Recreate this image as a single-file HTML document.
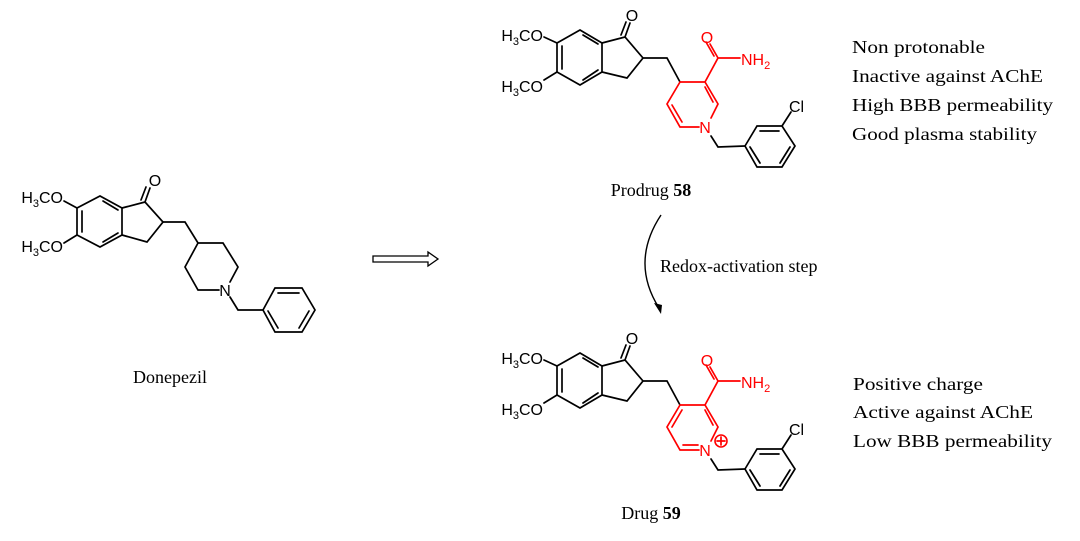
<!DOCTYPE html>
<html><head><meta charset="utf-8"><style>
html,body{margin:0;padding:0;background:#fff;}
svg{display:block;}
.b{stroke:#000;stroke-width:1.7;fill:none;stroke-linecap:round}
.r{stroke:#f00;stroke-width:1.7;fill:none;stroke-linecap:round}
.lab{font-family:"Liberation Sans",sans-serif;font-size:16px;}
.t{font-family:"Liberation Serif",serif;font-size:18px;}
</style></head><body>
<svg width="1080" height="541" viewBox="0 0 1080 541" xmlns="http://www.w3.org/2000/svg">
<!-- Donepezil -->
<g>
<path class="b" d="M77,208 L100,196 L122,208 L122,235 L100,247 L77,235 Z M82,211 L82,232 M103,201 L118,210 M118,233 L103,242"/>
<path class="b" d="M64,201 L77,208 M64,243 L77,235"/>
<path class="b" d="M122,208 L145,202 L163,222 L147,242 L122,235 M145,202 L150,188 M141,200 L146,187"/>
<path class="b" d="M163,222 L185,222 L198,243 L223,243 L238,267 L230,282 M219,290 L198,290 L185,267 L198,243 M230,297 L238,310 L263,310"/>
<path class="b" d="M263,310 L275,288 L302,288 L315,310 L302,332 L275,332 Z M278,293 L299,293 M309,311 L299,328 M268,311 L278,328"/>
<text class="lab" x="63" y="203" text-anchor="end">H<tspan font-size="11" dy="4">3</tspan><tspan dy="-4">CO</tspan></text>
<text class="lab" x="63" y="252" text-anchor="end">H<tspan font-size="11" dy="4">3</tspan><tspan dy="-4">CO</tspan></text>
<text class="lab" x="155" y="186" text-anchor="middle">O</text>
<text class="lab" x="225" y="296" text-anchor="middle">N</text>
<text class="t" x="170" y="383" text-anchor="middle">Donepezil</text>
</g>
<!-- hollow arrow -->
<path d="M373,256 L428,256 L428,252 L438,259 L428,266 L428,262 L373,262 Z" fill="#fff" stroke="#000" stroke-width="1.3"/>
<!-- curved arrow -->
<path d="M661,215 Q630,262 659,308" fill="none" stroke="#000" stroke-width="1.4"/>
<path d="M661,314 L654,303 L662,305 Z" fill="#000"/>
<text class="t" x="660" y="272">Redox-activation step</text>

<!-- Prodrug -->
<g>
<path class="b" d="M557,43 L580,30 L602,43 L602,72 L580,85 L557,72 Z M562,46 L562,69 M583,35 L598,44 M598,70 L583,80"/>
<path class="b" d="M544,37 L557,43 M544,80 L557,72"/>
<path class="b" d="M602,43 L625,37 L643,58 L627,78 L602,72 M625,37 L630,23 M621,35 L626,22 M643,58 L667,58 L680,82"/>
<path class="r" d="M680,82 L705,82 L718,104 L711,118 M699,127 L680,127 L667,104 L680,82 M705,87 L713,102 M672,105 L682,122 M705,82 L718,58 L740,58 M718,58 L710,44 M714,56 L706,42"/>
<path class="b" d="M711,136 L718,147 L745,146"/>
<path class="b" d="M745,146 L757,126 L782,126 L795,146 L782,167 L757,167 Z M760,131 L779,131 M790,147 L780,163 M750,147 L760,163 M782,126 L791,112"/>
<text class="lab" x="543" y="41" text-anchor="end">H<tspan font-size="11" dy="4">3</tspan><tspan dy="-4">CO</tspan></text>
<text class="lab" x="543" y="92" text-anchor="end">H<tspan font-size="11" dy="4">3</tspan><tspan dy="-4">CO</tspan></text>
<text class="lab" x="632" y="21" text-anchor="middle">O</text>
<text class="lab" x="705" y="133" text-anchor="middle" fill="#f00">N</text>
<text class="lab" x="707" y="43" text-anchor="middle" fill="#f00">O</text>
<text class="lab" x="741" y="65" fill="#f00">NH<tspan font-size="11" dy="4">2</tspan></text>
<text class="lab" x="789" y="112">Cl</text>
<text class="t" x="651" y="196" text-anchor="middle">Prodrug <tspan font-weight="bold">58</tspan></text>
</g>

<!-- Drug -->
<g transform="translate(0,323)">
<path class="b" d="M557,43 L580,30 L602,43 L602,72 L580,85 L557,72 Z M562,46 L562,69 M583,35 L598,44 M598,70 L583,80"/>
<path class="b" d="M544,37 L557,43 M544,80 L557,72"/>
<path class="b" d="M602,43 L625,37 L643,58 L627,78 L602,72 M625,37 L630,23 M621,35 L626,22 M643,58 L667,58 L680,82"/>
<path class="r" d="M680,82 L705,82 L718,104 L711,118 M699,127 L680,127 L667,104 L680,82 M705,87 L713,102 M672,104 L682,87 M683,122 L698,122 M705,82 L718,58 L740,58 M718,58 L710,44 M714,56 L706,42"/>
<circle cx="721" cy="118" r="6" fill="none" stroke="#f00" stroke-width="1.6"/>
<path class="r" d="M717,118 L725,118 M721,114 L721,122"/>
<path class="b" d="M711,136 L718,147 L745,146"/>
<path class="b" d="M745,146 L757,126 L782,126 L795,146 L782,167 L757,167 Z M760,131 L779,131 M790,147 L780,163 M750,147 L760,163 M782,126 L791,112"/>
<text class="lab" x="543" y="41" text-anchor="end">H<tspan font-size="11" dy="4">3</tspan><tspan dy="-4">CO</tspan></text>
<text class="lab" x="543" y="92" text-anchor="end">H<tspan font-size="11" dy="4">3</tspan><tspan dy="-4">CO</tspan></text>
<text class="lab" x="632" y="21" text-anchor="middle">O</text>
<text class="lab" x="705" y="133" text-anchor="middle" fill="#f00">N</text>
<text class="lab" x="707" y="43" text-anchor="middle" fill="#f00">O</text>
<text class="lab" x="741" y="65" fill="#f00">NH<tspan font-size="11" dy="4">2</tspan></text>
<text class="lab" x="789" y="112">Cl</text>
</g>
<text class="t" x="651" y="519" text-anchor="middle">Drug <tspan font-weight="bold">59</tspan></text>

<!-- property text -->
<text class="t" x="852" y="53" textLength="133" lengthAdjust="spacingAndGlyphs">Non protonable</text>
<text class="t" x="852" y="82" textLength="191" lengthAdjust="spacingAndGlyphs">Inactive against AChE</text>
<text class="t" x="852" y="111" textLength="201" lengthAdjust="spacingAndGlyphs">High BBB permeability</text>
<text class="t" x="852" y="140" textLength="185" lengthAdjust="spacingAndGlyphs">Good plasma stability</text>
<text class="t" x="853" y="390" textLength="130" lengthAdjust="spacingAndGlyphs">Positive charge</text>
<text class="t" x="853" y="418" textLength="180" lengthAdjust="spacingAndGlyphs">Active against AChE</text>
<text class="t" x="853" y="447" textLength="199" lengthAdjust="spacingAndGlyphs">Low BBB permeability</text>
</svg>
</body></html>
